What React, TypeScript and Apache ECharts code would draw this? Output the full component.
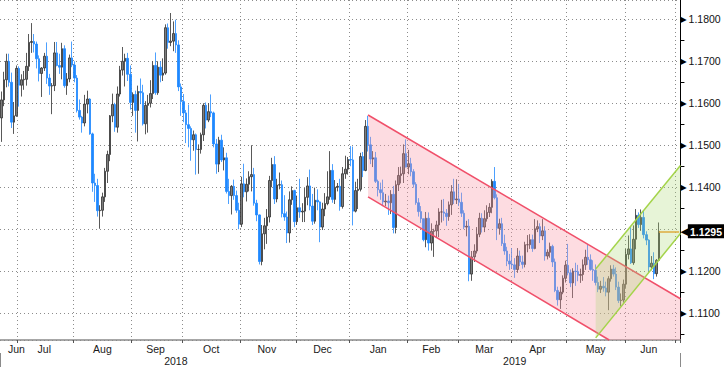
import { useEffect, useRef } from 'react';
import * as echarts from 'echarts';

// ---------- data ----------
const firstDate = '2018-06-21';
const lastDate = '2019-07-02';

// rows: [open, close, low, high]
const jun18 = [
  [1.1565, 1.1608, 1.1508, 1.1628], [1.1608, 1.1656, 1.1593, 1.1675], [1.1656, 1.1700, 1.1638, 1.1718],
  [1.1700, 1.1650, 1.1640, 1.1718], [1.1650, 1.1555, 1.1541, 1.1673], [1.1555, 1.1570, 1.1527, 1.1603],
  [1.1570, 1.1683, 1.1568, 1.1690],
];
const jul18 = [
  [1.1683, 1.1643, 1.1592, 1.1688], [1.1643, 1.1656, 1.1616, 1.1669], [1.1656, 1.1657, 1.1632, 1.1677],
  [1.1657, 1.1688, 1.1642, 1.1720], [1.1688, 1.1745, 1.1677, 1.1765], [1.1745, 1.1747, 1.1720, 1.1791],
  [1.1747, 1.1741, 1.1721, 1.1765], [1.1741, 1.1706, 1.1683, 1.1747], [1.1706, 1.1671, 1.1652, 1.1714],
  [1.1671, 1.1684, 1.1615, 1.1686], [1.1684, 1.1712, 1.1677, 1.1720], [1.1712, 1.1660, 1.1646, 1.1745],
  [1.1660, 1.1641, 1.1620, 1.1670], [1.1641, 1.1642, 1.1574, 1.1648], [1.1642, 1.1720, 1.1629, 1.1746],
  [1.1720, 1.1690, 1.1688, 1.1746], [1.1690, 1.1686, 1.1670, 1.1718], [1.1686, 1.1730, 1.1657, 1.1744],
  [1.1730, 1.1642, 1.1637, 1.1738], [1.1642, 1.1658, 1.1620, 1.1672], [1.1658, 1.1708, 1.1650, 1.1716],
  [1.1708, 1.1691, 1.1686, 1.1747],
];
const aug18 = [
  [1.1691, 1.1660, 1.1650, 1.1700], [1.1660, 1.1583, 1.1578, 1.1667], [1.1583, 1.1567, 1.1561, 1.1609],
  [1.1567, 1.1553, 1.1530, 1.1570], [1.1553, 1.1598, 1.1545, 1.1620], [1.1598, 1.1610, 1.1576, 1.1630],
  [1.1610, 1.1527, 1.1525, 1.1612], [1.1527, 1.1410, 1.1389, 1.1530], [1.1410, 1.1404, 1.1365, 1.1432],
  [1.1404, 1.1344, 1.1330, 1.1420], [1.1344, 1.1345, 1.1301, 1.1357], [1.1345, 1.1377, 1.1330, 1.1387],
  [1.1377, 1.1438, 1.1365, 1.1446], [1.1438, 1.1478, 1.1410, 1.1487], [1.1478, 1.1570, 1.1462, 1.1572],
  [1.1570, 1.1597, 1.1555, 1.1623], [1.1597, 1.1543, 1.1532, 1.1601], [1.1543, 1.1622, 1.1530, 1.1640],
  [1.1622, 1.1679, 1.1616, 1.1689], [1.1679, 1.1700, 1.1666, 1.1734], [1.1700, 1.1707, 1.1640, 1.1718],
  [1.1707, 1.1669, 1.1653, 1.1720], [1.1669, 1.1602, 1.1585, 1.1690],
];
const sep18 = [
  [1.1602, 1.1621, 1.1570, 1.1626], [1.1621, 1.1583, 1.1530, 1.1630], [1.1583, 1.1628, 1.1509, 1.1642],
  [1.1628, 1.1625, 1.1598, 1.1659], [1.1625, 1.1551, 1.1547, 1.1644], [1.1551, 1.1595, 1.1526, 1.1605],
  [1.1595, 1.1600, 1.1530, 1.1620], [1.1600, 1.1623, 1.1590, 1.1655], [1.1623, 1.1690, 1.1610, 1.1700],
  [1.1690, 1.1625, 1.1620, 1.1721], [1.1625, 1.1686, 1.1620, 1.1700], [1.1686, 1.1667, 1.1650, 1.1700],
  [1.1667, 1.1672, 1.1653, 1.1707], [1.1672, 1.1780, 1.1668, 1.1788], [1.1780, 1.1745, 1.1730, 1.1790],
  [1.1745, 1.1748, 1.1736, 1.1815], [1.1748, 1.1766, 1.1724, 1.1795], [1.1766, 1.1739, 1.1720, 1.1799],
  [1.1739, 1.1639, 1.1629, 1.1750], [1.1639, 1.1604, 1.1570, 1.1647],
];
const oct18 = [
  [1.1604, 1.1577, 1.1555, 1.1622], [1.1577, 1.1549, 1.1505, 1.1584], [1.1549, 1.1540, 1.1495, 1.1597],
  [1.1540, 1.1513, 1.1463, 1.1545], [1.1513, 1.1525, 1.1487, 1.1535], [1.1525, 1.1490, 1.1430, 1.1528],
  [1.1490, 1.1490, 1.1432, 1.1502], [1.1490, 1.1525, 1.1480, 1.1530], [1.1525, 1.1595, 1.1510, 1.1600],
  [1.1595, 1.1560, 1.1540, 1.1602], [1.1560, 1.1580, 1.1555, 1.1600], [1.1580, 1.1577, 1.1567, 1.1621],
  [1.1577, 1.1503, 1.1495, 1.1580], [1.1503, 1.1455, 1.1432, 1.1515], [1.1455, 1.1512, 1.1436, 1.1520],
  [1.1512, 1.1465, 1.1460, 1.1525], [1.1465, 1.1470, 1.1440, 1.1495], [1.1470, 1.1390, 1.1385, 1.1482],
  [1.1390, 1.1380, 1.1360, 1.1420], [1.1380, 1.1402, 1.1335, 1.1405], [1.1402, 1.1380, 1.1370, 1.1418],
  [1.1380, 1.1345, 1.1339, 1.1392], [1.1345, 1.1312, 1.1300, 1.1363],
];
const nov18 = [
  [1.1312, 1.1408, 1.1305, 1.1425], [1.1408, 1.1389, 1.1376, 1.1456], [1.1389, 1.1407, 1.1366, 1.1421],
  [1.1407, 1.1425, 1.1390, 1.1438], [1.1425, 1.1430, 1.1390, 1.1500], [1.1430, 1.1362, 1.1356, 1.1446],
  [1.1362, 1.1334, 1.1319, 1.1370], [1.1334, 1.1223, 1.1216, 1.1335], [1.1223, 1.1289, 1.1214, 1.1310],
  [1.1289, 1.1308, 1.1252, 1.1327], [1.1308, 1.1329, 1.1265, 1.1348], [1.1329, 1.1416, 1.1316, 1.1427],
  [1.1416, 1.1454, 1.1400, 1.1470], [1.1454, 1.1372, 1.1360, 1.1474], [1.1372, 1.1405, 1.1364, 1.1420],
  [1.1405, 1.1406, 1.1395, 1.1435], [1.1406, 1.1337, 1.1328, 1.1416], [1.1337, 1.1329, 1.1320, 1.1381],
  [1.1329, 1.1291, 1.1267, 1.1342], [1.1291, 1.1370, 1.1268, 1.1390], [1.1370, 1.1392, 1.1358, 1.1402],
  [1.1392, 1.1318, 1.1305, 1.1394],
];
const dec18 = [
  [1.1318, 1.1351, 1.1310, 1.1380], [1.1351, 1.1341, 1.1327, 1.1420], [1.1341, 1.1343, 1.1317, 1.1362],
  [1.1343, 1.1376, 1.1317, 1.1398], [1.1376, 1.1403, 1.1357, 1.1424], [1.1403, 1.1355, 1.1345, 1.1442],
  [1.1355, 1.1319, 1.1310, 1.1384], [1.1319, 1.1369, 1.1313, 1.1399], [1.1369, 1.1365, 1.1345, 1.1395],
  [1.1365, 1.1305, 1.1269, 1.1366], [1.1305, 1.1348, 1.1298, 1.1363], [1.1348, 1.1361, 1.1331, 1.1386],
  [1.1361, 1.1377, 1.1357, 1.1438], [1.1377, 1.1440, 1.1370, 1.1486], [1.1440, 1.1371, 1.1363, 1.1455],
  [1.1371, 1.1400, 1.1360, 1.1417], [1.1400, 1.1402, 1.1390, 1.1410], [1.1402, 1.1354, 1.1344, 1.1420],
  [1.1354, 1.1432, 1.1349, 1.1448], [1.1432, 1.1443, 1.1420, 1.1475], [1.1443, 1.1466, 1.1430, 1.1472],
];
const jan19 = [
  [1.1466, 1.1465, 1.1450, 1.1498], [1.1465, 1.1343, 1.1309, 1.1497], [1.1343, 1.1392, 1.1340, 1.1413],
  [1.1392, 1.1395, 1.1348, 1.1420], [1.1395, 1.1473, 1.1390, 1.1482], [1.1473, 1.1440, 1.1424, 1.1484],
  [1.1440, 1.1545, 1.1438, 1.1560], [1.1545, 1.1501, 1.1485, 1.1570], [1.1501, 1.1467, 1.1455, 1.1520],
  [1.1467, 1.1470, 1.1448, 1.1486], [1.1470, 1.1414, 1.1410, 1.1484], [1.1414, 1.1394, 1.1378, 1.1418],
  [1.1394, 1.1387, 1.1370, 1.1411], [1.1387, 1.1365, 1.1355, 1.1418], [1.1365, 1.1367, 1.1355, 1.1384],
  [1.1367, 1.1363, 1.1334, 1.1380], [1.1363, 1.1383, 1.1336, 1.1393], [1.1383, 1.1304, 1.1290, 1.1403],
  [1.1304, 1.1406, 1.1290, 1.1416], [1.1406, 1.1428, 1.1391, 1.1448], [1.1428, 1.1432, 1.1409, 1.1449],
  [1.1432, 1.1480, 1.1410, 1.1502], [1.1480, 1.1448, 1.1447, 1.1514],
];
const feb19 = [
  [1.1448, 1.1456, 1.1431, 1.1489], [1.1456, 1.1437, 1.1426, 1.1470], [1.1437, 1.1407, 1.1399, 1.1443],
  [1.1407, 1.1363, 1.1358, 1.1412], [1.1363, 1.1342, 1.1330, 1.1374], [1.1342, 1.1325, 1.1315, 1.1355],
  [1.1325, 1.1275, 1.1271, 1.1325], [1.1275, 1.1326, 1.1257, 1.1341], [1.1326, 1.1267, 1.1249, 1.1340],
  [1.1267, 1.1295, 1.1249, 1.1314], [1.1295, 1.1296, 1.1234, 1.1301], [1.1296, 1.1310, 1.1280, 1.1320],
  [1.1310, 1.1341, 1.1281, 1.1350], [1.1341, 1.1341, 1.1316, 1.1370], [1.1341, 1.1338, 1.1320, 1.1372],
  [1.1338, 1.1330, 1.1308, 1.1348], [1.1330, 1.1358, 1.1320, 1.1366], [1.1358, 1.1389, 1.1334, 1.1405],
  [1.1389, 1.1370, 1.1360, 1.1420], [1.1370, 1.1372, 1.1360, 1.1419],
];
const mar19 = [
  [1.1372, 1.1364, 1.1355, 1.1408], [1.1364, 1.1338, 1.1329, 1.1387], [1.1338, 1.1305, 1.1300, 1.1345],
  [1.1305, 1.1307, 1.1283, 1.1320], [1.1307, 1.1193, 1.1176, 1.1324], [1.1193, 1.1234, 1.1177, 1.1248],
  [1.1234, 1.1248, 1.1222, 1.1264], [1.1248, 1.1288, 1.1242, 1.1305], [1.1288, 1.1326, 1.1281, 1.1339],
  [1.1326, 1.1305, 1.1292, 1.1338], [1.1305, 1.1325, 1.1293, 1.1345], [1.1325, 1.1340, 1.1318, 1.1357],
  [1.1340, 1.1352, 1.1329, 1.1362], [1.1352, 1.1414, 1.1338, 1.1419], [1.1414, 1.1375, 1.1371, 1.1448],
  [1.1375, 1.1302, 1.1274, 1.1383], [1.1302, 1.1313, 1.1287, 1.1325], [1.1313, 1.1266, 1.1260, 1.1327],
  [1.1266, 1.1248, 1.1239, 1.1287], [1.1248, 1.1224, 1.1212, 1.1258], [1.1224, 1.1217, 1.1203, 1.1241],
];
const apr19 = [
  [1.1217, 1.1215, 1.1206, 1.1255], [1.1215, 1.1204, 1.1184, 1.1231], [1.1204, 1.1236, 1.1196, 1.1255],
  [1.1236, 1.1222, 1.1212, 1.1249], [1.1222, 1.1216, 1.1206, 1.1237], [1.1216, 1.1263, 1.1209, 1.1270],
  [1.1263, 1.1263, 1.1245, 1.1286], [1.1263, 1.1275, 1.1253, 1.1288], [1.1275, 1.1254, 1.1246, 1.1287],
  [1.1254, 1.1301, 1.1252, 1.1324], [1.1301, 1.1306, 1.1293, 1.1321], [1.1306, 1.1284, 1.1267, 1.1314],
  [1.1284, 1.1296, 1.1274, 1.1324], [1.1296, 1.1236, 1.1225, 1.1307], [1.1236, 1.1245, 1.1228, 1.1252],
  [1.1245, 1.1259, 1.1232, 1.1268], [1.1259, 1.1222, 1.1210, 1.1263], [1.1222, 1.1154, 1.1150, 1.1230],
  [1.1154, 1.1132, 1.1118, 1.1163], [1.1132, 1.1150, 1.1110, 1.1163], [1.1150, 1.1183, 1.1145, 1.1190],
  [1.1183, 1.1214, 1.1173, 1.1225],
];
const may19 = [
  [1.1214, 1.1196, 1.1190, 1.1265], [1.1196, 1.1172, 1.1162, 1.1204], [1.1172, 1.1200, 1.1136, 1.1207],
  [1.1200, 1.1199, 1.1165, 1.1220], [1.1199, 1.1190, 1.1176, 1.1215], [1.1190, 1.1192, 1.1172, 1.1206],
  [1.1192, 1.1215, 1.1177, 1.1228], [1.1215, 1.1233, 1.1203, 1.1251], [1.1233, 1.1227, 1.1215, 1.1264],
  [1.1227, 1.1204, 1.1201, 1.1240], [1.1204, 1.1202, 1.1177, 1.1226], [1.1202, 1.1173, 1.1166, 1.1216],
  [1.1173, 1.1157, 1.1150, 1.1187], [1.1157, 1.1164, 1.1148, 1.1177], [1.1164, 1.1160, 1.1151, 1.1186],
  [1.1160, 1.1150, 1.1140, 1.1175], [1.1150, 1.1182, 1.1107, 1.1188], [1.1182, 1.1205, 1.1175, 1.1214],
  [1.1205, 1.1193, 1.1187, 1.1215], [1.1193, 1.1162, 1.1155, 1.1209], [1.1162, 1.1130, 1.1124, 1.1175],
  [1.1130, 1.1131, 1.1116, 1.1147], [1.1131, 1.1169, 1.1125, 1.1180],
];
const jun19 = [
  [1.1169, 1.1240, 1.1160, 1.1253], [1.1240, 1.1253, 1.1228, 1.1285], [1.1253, 1.1220, 1.1217, 1.1306],
  [1.1220, 1.1276, 1.1215, 1.1309], [1.1276, 1.1333, 1.1252, 1.1348], [1.1333, 1.1311, 1.1303, 1.1340],
  [1.1311, 1.1328, 1.1296, 1.1347], [1.1328, 1.1287, 1.1278, 1.1345], [1.1287, 1.1274, 1.1262, 1.1295],
  [1.1274, 1.1210, 1.1200, 1.1276], [1.1210, 1.1219, 1.1202, 1.1236], [1.1219, 1.1194, 1.1181, 1.1245],
  [1.1194, 1.1226, 1.1187, 1.1229], [1.1226, 1.1295, 1.1224, 1.1316],
];

const lastPrice = 1.1295;
const monthNames = ['Jan', 'Feb', 'Mar', 'Apr', 'May', 'Jun', 'Jul', 'Aug', 'Sep', 'Oct', 'Nov', 'Dec'];
const hiddenPriceLabels = [1.13];

// trend channels: [date, price] anchors for upper and lower lines
const redChannel = { from: '2019-01-10', to: '2019-07-02', upper: [1.1572, 1.1136], lower: [1.1377, 1.0937] };
const greenChannel = { from: '2019-05-16', to: '2019-07-02', upper: [1.1205, 1.1448], lower: [1.1041, 1.1286] };

// ---------- helpers ----------
function weekdays(from: string, to: string): string[] {
  const out: string[] = [];
  const d = new Date(from + 'T00:00:00Z');
  const end = new Date(to + 'T00:00:00Z');
  while (d <= end) {
    const wd = d.getUTCDay();
    if (wd !== 0 && wd !== 6) out.push(d.toISOString().slice(0, 10));
    d.setUTCDate(d.getUTCDate() + 1);
  }
  return out;
}

const categories = weekdays(firstDate, lastDate);
const ohlc = [...jun18, ...jul18, ...aug18, ...sep18, ...oct18, ...nov18, ...dec18,
  ...jan19, ...feb19, ...mar19, ...apr19, ...may19, ...jun19];
const lastBarDate = categories[ohlc.length - 1];

// month/year grouping
const monthSpans: Record<string, { first: number; last: number }> = {};
const yearSpans: Record<string, { first: number; last: number }> = {};
categories.forEach((d, i) => {
  const m = d.slice(0, 7), y = d.slice(0, 4);
  if (!monthSpans[m]) monthSpans[m] = { first: i, last: i };
  monthSpans[m].last = i;
  if (!yearSpans[y]) yearSpans[y] = { first: i, last: i };
  yearSpans[y].last = i;
});
const monthStart = new Set<number>();
const monthLabelAt = new Map<number, string>();
Object.keys(monthSpans).forEach((m) => {
  const s = monthSpans[m];
  if (s.first > 0) monthStart.add(s.first);
  if (s.last - s.first + 1 >= 5) {
    const mid = Math.floor((s.first + s.last) / 2);
    // a partial first month keeps its label clear of the left edge
    const at = s.first === 0 ? Math.max(mid, 6) : mid;
    monthLabelAt.set(at, monthNames[parseInt(m.slice(5, 7), 10) - 1]);
  }
});
const yearStart = new Set<number>();
const yearLabelAt = new Map<number, string>();
Object.keys(yearSpans).forEach((y) => {
  const s = yearSpans[y];
  if (s.first > 0) yearStart.add(s.first);
  yearLabelAt.set(Math.round((s.first + s.last) / 2), y);
});

type Pt = number[];
function clipPolygon(pts: Pt[], r: any): Pt[] {
  const planes: [number, number, boolean][] = [
    [0, r.x, true], [0, r.x + r.width, false], [1, r.y, true], [1, r.y + r.height, false],
  ];
  let out = pts;
  for (const [ax, b, ge] of planes) {
    const inp = out;
    out = [];
    const inside = (p: Pt) => (ge ? p[ax] >= b - 1e-6 : p[ax] <= b + 1e-6);
    const inter = (p: Pt, q: Pt) => {
      const t = (b - p[ax]) / (q[ax] - p[ax]);
      return [p[0] + t * (q[0] - p[0]), p[1] + t * (q[1] - p[1])];
    };
    for (let i = 0; i < inp.length; i++) {
      const cur = inp[i], prev = inp[(i + inp.length - 1) % inp.length];
      if (inside(cur)) {
        if (!inside(prev)) out.push(inter(prev, cur));
        out.push(cur);
      } else if (inside(prev)) out.push(inter(prev, cur));
    }
  }
  return out;
}
function clipSeg(a: Pt, b: Pt, r: any): Pt[] | null {
  let t0 = 0, t1 = 1;
  const dx = b[0] - a[0], dy = b[1] - a[1];
  const p = [-dx, dx, -dy, dy];
  const q = [a[0] - r.x, r.x + r.width - a[0], a[1] - r.y, r.y + r.height - a[1]];
  for (let i = 0; i < 4; i++) {
    if (p[i] === 0) { if (q[i] < 0) return null; }
    else {
      const t = q[i] / p[i];
      if (p[i] < 0) { if (t > t1) return null; if (t > t0) t0 = t; }
      else { if (t < t0) return null; if (t < t1) t1 = t; }
    }
  }
  return [[a[0] + t0 * dx, a[1] + t0 * dy], [a[0] + t1 * dx, a[1] + t1 * dy]];
}

function channelSeries(ch: any, fill: string, stroke: string, z: number) {
  return {
    type: 'custom',
    z,
    silent: true,
    data: [[ch.from, ch.upper[0]]],
    renderItem: (params: any, api: any) => {
      const cs = params.coordSys;
      const rect = { x: cs.x, y: cs.y, width: cs.width, height: cs.height };
      const i0 = categories.indexOf(ch.from);
      const i1 = categories.indexOf(ch.to);
      const u0 = api.coord([i0, ch.upper[0]]);
      const u1 = api.coord([i1, ch.upper[1]]);
      const l0 = api.coord([i0, ch.lower[0]]);
      const l1 = api.coord([i1, ch.lower[1]]);
      const R = cs.x + cs.width;
      const ext = (a: Pt, b: Pt) => [R, a[1] + ((b[1] - a[1]) * (R - a[0])) / (b[0] - a[0])];
      const uR = ext(u0, u1), lR = ext(l0, l1);
      const poly = clipPolygon([u0, uR, lR, l0], rect);
      const children: any[] = [];
      if (poly.length > 2) children.push({ type: 'polygon', shape: { points: poly }, style: { fill, stroke: 'none' } });
      [clipSeg(u0, uR, rect), clipSeg(l0, lR, rect)].forEach((s) => {
        if (s) children.push({
          type: 'line',
          shape: { x1: s[0][0], y1: s[0][1], x2: s[1][0], y2: s[1][1] },
          style: { stroke, lineWidth: 1.5, fill: 'none' },
        });
      });
      return { type: 'group', children };
    },
  };
}

const yMin = 1.1036;
const yMax = 1.1846;
const FONT = 'Liberation Sans';

export default function App() {
  const ref = useRef<HTMLDivElement>(null);
  useEffect(() => {
    if (!ref.current) return;
    const chart = echarts.init(ref.current, undefined, { renderer: 'svg' });
    const option: any = {
      animation: false,
      backgroundColor: '#ffffff',
      textStyle: { fontFamily: FONT },
      grid: { left: 0, right: 43, top: -1, bottom: 33, containLabel: false },
      xAxis: [
        {
          type: 'category', data: categories, boundaryGap: true, position: 'bottom', offset: 0,
          axisLine: { show: true, lineStyle: { color: '#8a8a8a', width: 1.5 } },
          axisTick: { show: true, interval: (i: number) => monthStart.has(i), length: 3, lineStyle: { color: '#555' } },
          axisLabel: { show: false },
          splitLine: { show: true, interval: (i: number) => monthStart.has(i), lineStyle: { color: '#8c8c8c', type: [1, 3], width: 1 } },
        },
        {
          type: 'category', data: categories, boundaryGap: true, position: 'bottom', offset: 0,
          axisLine: { show: false }, axisTick: { show: false }, splitLine: { show: false },
          axisLabel: {
            show: true, interval: (i: number) => monthLabelAt.has(i),
            formatter: (_v: string, i: number) => monthLabelAt.get(i) || '',
            margin: 3, fontSize: 10.5, color: '#1a1a1a', fontFamily: FONT,
          },
        },
        {
          type: 'category', data: categories, boundaryGap: true, position: 'bottom', offset: 13,
          axisLine: { show: false }, splitLine: { show: false },
          axisTick: { show: true, interval: (i: number) => yearStart.has(i), length: 14, lineStyle: { color: '#8a8a8a' } },
          axisLabel: {
            show: true, interval: (i: number) => yearLabelAt.has(i),
            formatter: (_v: string, i: number) => yearLabelAt.get(i) || '',
            margin: 2, fontSize: 10.5, color: '#1a1a1a', fontFamily: FONT,
          },
        },
      ],
      yAxis: [
        {
          type: 'value', position: 'right', offset: 0, min: yMin, max: yMax, splitNumber: 8, scale: true,
          axisLine: { show: true, lineStyle: { color: '#000', width: 1 } },
          axisTick: { show: false },
          minorTick: { show: true, splitNumber: 2, length: 4, lineStyle: { color: '#000', width: 1 } },
          splitLine: { show: true, lineStyle: { color: '#8c8c8c', type: [1, 3], width: 1 } },
          axisLabel: {
            margin: 0, showMinLabel: true, showMaxLabel: true,
            formatter: (v: number) => {
              const k = Math.round(v * 100);
              if (Math.abs(v * 100 - k) > 1e-6) return '';
              if (hiddenPriceLabels.some((h) => Math.abs(h - v) < 1e-6)) return '';
              return `{t|▶}{v|${v.toFixed(4)}}`;
            },
            rich: {
              t: { fontSize: 8, color: '#000', padding: [0, 2, 0, 0], fontFamily: 'DejaVu Sans' },
              v: { fontSize: 10.5, color: '#111', fontFamily: FONT },
            },
          },
        },
        {
          type: 'value', position: 'right', offset: 0, min: yMin, max: yMax, scale: true,
          axisLine: { show: false }, axisTick: { show: false }, splitLine: { show: false },
          axisLabel: {
            margin: 0, customValues: [lastPrice],
            formatter: (v: number) => `{a|◀}{b|${v.toFixed(4)}}`,
            rich: {
              a: { fontSize: 11, color: '#000', fontFamily: 'DejaVu Sans', padding: [0, -1, 0, 0] },
              b: { fontSize: 10.5, color: '#fff', backgroundColor: '#000', padding: [2, 2, 1, 2], fontFamily: FONT, fontWeight: 'bold' },
            },
          },
        },
      ],
      series: [
        {
          type: 'candlestick', xAxisIndex: 0, yAxisIndex: 0, z: 2,
          data: ohlc,
          barWidth: 2,
          itemStyle: { color: '#7d7d7d', color0: '#1e88ff', borderColor: '#2e2e2e', borderColor0: '#1e88ff', borderWidth: 0.8 },
          markLine: {
            silent: true, symbol: ['none', 'none'], label: { show: false },
            lineStyle: { color: '#f39b2b', width: 1.5, type: 'solid' },
            data: [[{ coord: [lastBarDate, lastPrice] }, { coord: [categories[categories.length - 1], lastPrice] }]],
          },
        },
        channelSeries(redChannel, 'rgba(250,150,165,0.33)', '#f0506a', 5),
        channelSeries(greenChannel, 'rgba(170,215,110,0.28)', '#a4d44a', 6),
      ],
    };
    chart.setOption(option);
    return () => chart.dispose();
  }, []);
  return <div ref={ref} style={{ position: 'fixed', left: 0, top: 0, width: 727, height: 373 }} />;
}
